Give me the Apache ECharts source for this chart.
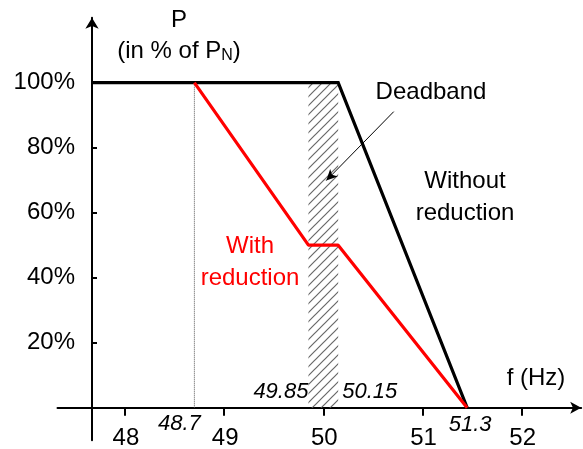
<!DOCTYPE html>
<html lang="en">
<head>
<meta charset="UTF-8">
<title>P(f) with and without reduction</title>
<script src="https://cdn.jsdelivr.net/npm/echarts@6/dist/echarts.min.js"></script>
<style>
    html, body { margin: 0; padding: 0; background: #fff; }
    #main { width: 583px; height: 449px; }
</style>
</head>
<body>
<div id="main"></div>
<script type="text/javascript">
    // axis ticks
    var freqTicks = [48, 49, 50, 51, 52];
    var powerTicks = [20, 40, 60, 80, 100];
    // curve without reduction (f in Hz, P in % of PN)
    var withoutFreq = [47.67, 50.15, 51.45];
    var withoutPower = [100, 100, 0];
    // curve with reduction
    var withFreq = [48.7, 49.85, 50.15, 51.45];
    var withPower = [100, 50, 50, 0];
    // deadband limits
    var deadband = [49.85, 50.15];
    // italic marker labels on the f axis
    var markerFreq = [48.7, 49.85, 50.15, 51.45];
    var markerText = ['48.7', '49.85', '50.15', '51.3'];

    var font = '"Liberation Sans", Arial, sans-serif';

    function pairs(xs, ys) {
        var out = [];
        for (var i = 0; i < xs.length; i++) out.push([xs[i], ys[i]]);
        return out;
    }

    // hatch pattern for the deadband
    var hatch = document.createElement('canvas');
    hatch.width = 9;
    hatch.height = 9;
    var ctx = hatch.getContext('2d');
    ctx.strokeStyle = '#686868';
    ctx.lineWidth = 1.2;
    ctx.beginPath();
    ctx.moveTo(-1, 10); ctx.lineTo(10, -1);
    ctx.moveTo(-1, 1); ctx.lineTo(1, -1);
    ctx.moveTo(8, 10); ctx.lineTo(10, 8);
    ctx.stroke();

    var myChart = echarts.init(document.getElementById('main'));

    myChart.setOption({
        animation: false,
        backgroundColor: '#fff',
        grid: { left: 57.5, right: 1.8, top: 17.7, bottom: 8.8, containLabel: false, outerBoundsMode: 'none' },
        xAxis: {
            type: 'value', min: 47.32, max: 52.6,
            axisLine: { onZero: true, lineStyle: { color: '#000', width: 2 }, symbol: ['none', 'arrow'], symbolSize: [9, 11] },
            axisTick: { customValues: freqTicks, length: 8, lineStyle: { color: '#000', width: 2 } },
            axisLabel: { show: false },
            splitLine: { show: false }
        },
        yAxis: {
            type: 'value', min: -10, max: 120, offset: -34.5,
            axisLine: { show: true, onZero: false, lineStyle: { color: '#000', width: 2 }, symbol: ['none', 'arrow'], symbolSize: [10, 11] },
            axisTick: { show: true, inside: true, length: 5, customValues: powerTicks, lineStyle: { color: '#000', width: 2 } },
            axisLabel: { customValues: powerTicks, formatter: '{value}%', margin: 17, fontSize: 24, color: '#000', fontFamily: font },
            splitLine: { show: false }
        },
        series: [
            {
                // 48.7 Hz guide + deadband
                type: 'line', silent: true, symbol: 'none', z: 1,
                data: [[withFreq[0], 0], [withFreq[0], withPower[0]]],
                lineStyle: { color: '#555', width: 1, type: 'dotted' },
                markArea: {
                    silent: true,
                    itemStyle: { color: { image: hatch, repeat: 'repeat' } },
                    data: [[{ coord: [deadband[0], 0] }, { coord: [deadband[1], 100] }]]
                }
            },
            {
                name: 'Without reduction', type: 'line', silent: true, symbol: 'none', z: 3,
                data: pairs(withoutFreq, withoutPower),
                lineStyle: { color: '#000', width: 3.2, join: 'miter' }
            },
            {
                name: 'With reduction', type: 'line', silent: true, symbol: 'none', z: 4,
                data: pairs(withFreq, withPower),
                lineStyle: { color: '#ff0000', width: 3.2 }
            },
            {
                // deadband arrow
                type: 'line', silent: true, symbol: 'none', data: [], z: 5,
                markLine: {
                    silent: true, symbol: ['none', 'arrow'], symbolSize: [8, 11],
                    label: { show: false },
                    lineStyle: { color: '#000', width: 1, type: 'solid' },
                    data: [[{ coord: [50.71, 91.1] }, { coord: [50.03, 69.9] }]]
                }
            }
        ]
    });

    var texts = [
        { x: 179, y: 20, text: 'P', color: '#000' },
        { x: 179, y: 51, text: '(in % of P{n|N})', color: '#000' },
        { x: 431, y: 92, text: 'Deadband', color: '#000' },
        { x: 465, y: 197, text: 'Without\nreduction', color: '#000' },
        { x: 250, y: 262, text: 'With\nreduction', color: '#ff0000' },
        { x: 536, y: 378, text: 'f (Hz)', color: '#000' }
    ];
    var graphics = texts.map(function (t) {
        return {
            type: 'text', silent: true,
            style: {
                text: t.text, x: t.x, y: t.y, fill: t.color,
                fontSize: 24, fontFamily: font, lineHeight: 32,
                align: 'center', verticalAlign: 'middle',
                rich: { n: { fontSize: 16, fontFamily: font, fill: t.color, padding: [10, 0, 0, 0] } }
            }
        };
    });

    // f axis tick labels, placed through the axis scale
    freqTicks.forEach(function (f) {
        var p = myChart.convertToPixel({ gridIndex: 0 }, [f, 0]);
        graphics.push({
            type: 'text', silent: true,
            style: {
                text: String(f), x: p[0] + 1, y: p[1] + 31, fill: '#000',
                fontSize: 24, fontFamily: font, align: 'center', verticalAlign: 'middle'
            }
        });
    });

    // italic value labels placed through the axis scale
    var offsets = [[-15, 16, 'center'], [0, -16, 'right'], [4, -16, 'left'], [3, 17, 'center']];
    for (var i = 0; i < markerFreq.length; i++) {
        var p = myChart.convertToPixel({ gridIndex: 0 }, [markerFreq[i], 0]);
        graphics.push({
            type: 'text', silent: true,
            style: {
                text: markerText[i], x: p[0] + offsets[i][0], y: p[1] + offsets[i][1],
                fill: '#000', fontSize: 22, fontStyle: 'italic', fontFamily: font,
                align: offsets[i][2], verticalAlign: 'middle'
            }
        });
    }
    myChart.setOption({ graphic: graphics });
</script>
</body>
</html>
